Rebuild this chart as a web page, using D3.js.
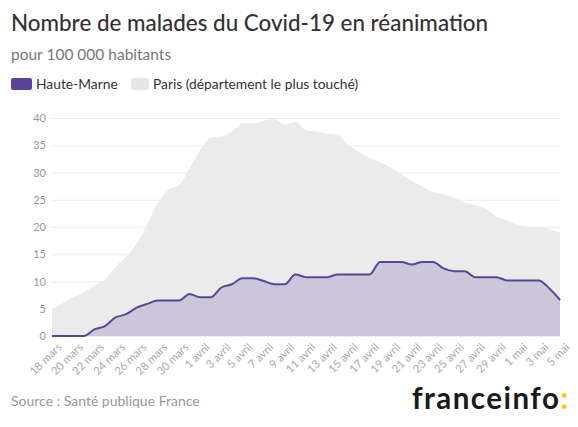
<!DOCTYPE html>
<html><head><meta charset="utf-8">
<script src="https://cdn.jsdelivr.net/npm/d3@7"></script>
<style>
body{margin:0;background:#fff;}
svg{display:block;font-family:Lato, "Open Sans", sans-serif;}
</style></head>
<body><svg id="c" width="578" height="427"></svg>
<script>
const dates = d3.range(0,49).map(i => new Date(2020,2,18+i));
const paris = [4.95,6.0,7.1,8.0,9.2,10.3,12.7,14.6,16.9,20.4,24.5,26.8,27.7,30.8,34.1,36.4,36.6,37.5,39.0,39.0,39.5,39.8,38.8,39.3,37.8,37.5,37.1,36.9,35.0,33.8,32.6,31.9,30.9,29.7,28.5,27.4,26.4,26.0,25.3,24.5,24.0,23.4,21.9,21.3,20.4,20.1,20.1,19.6,19.0];
const hauteMarne = [0,0,0,0,1.2,1.8,3.4,4.0,5.2,5.9,6.5,6.5,6.5,7.7,7.1,7.1,8.9,9.5,10.6,10.6,10.1,9.5,9.5,11.3,10.8,10.8,10.8,11.3,11.3,11.3,11.3,13.6,13.6,13.6,13.1,13.6,13.6,12.4,11.9,11.9,10.8,10.8,10.8,10.2,10.2,10.2,10.2,8.7,6.6];
const yTicks = [0,5,10,15,20,25,30,35,40];
const moisFr = ["janv","févr","mars","avril","mai"];
const title = "Nombre de malades du Covid-19 en réanimation";
const subtitle = "pour 100 000 habitants";
const legendLabels = ["Haute-Marne","Paris (département le plus touché)"];
const source = "Source : Santé publique France";

const svg = d3.select("#c");
const x = d3.scaleTime().domain([dates[0], dates[48]]).range([52, 560]);
const y = d3.scaleLinear().domain([0,40]).range([336, 118]);

svg.append("text").attr("x",11).attr("y",31).attr("font-size",22.4).attr("font-weight",500).attr("fill","#333").text(title);
svg.append("text").attr("x",11).attr("y",60).attr("font-size",15.5).attr("fill","#777").text(subtitle);
// legend
const lg = svg.append("g");
lg.append("rect").attr("x",11).attr("y",78).attr("width",21).attr("height",12).attr("rx",2).attr("fill","#5d4299");
lg.append("text").attr("x",36).attr("y",89).attr("font-size",13.8).attr("fill","#333").text(legendLabels[0]);
lg.append("rect").attr("x",131).attr("y",78).attr("width",18).attr("height",12).attr("rx",2).attr("fill","#e6e6e6");
lg.append("text").attr("x",153).attr("y",89).attr("font-size",13.8).attr("fill","#333").text(legendLabels[1]);

// grid
const ya = svg.append("g").attr("transform","translate(52,0)")
  .call(d3.axisLeft(y).tickValues(yTicks).tickSize(-508).tickPadding(6));
ya.select(".domain").remove();
ya.selectAll("line").attr("stroke","#ececec");
ya.selectAll("text").attr("fill","#999").attr("font-size",11).attr("font-family","Lato, sans-serif");

const curve = d3.curveMonotoneX;
const areaP = d3.area().x((d,i)=>x(dates[i])).y0(y(0)).y1(d=>y(d)).curve(curve);
svg.append("path").datum(paris).attr("d",areaP).attr("fill","#ebebeb");
svg.append("path").datum(hauteMarne).attr("d",areaP).attr("fill","#cbc6d9");
svg.append("path").datum(hauteMarne).attr("d",d3.line().x((d,i)=>x(dates[i])).y(d=>y(d)).curve(curve))
  .attr("fill","none").attr("stroke","#5a4794").attr("stroke-width",2);

// x axis
const xTickDates = dates.filter((d,i)=>i%2===0);
const xa = svg.append("g").attr("transform","translate(0,336)")
  .call(d3.axisBottom(x).tickValues(xTickDates).tickSize(0).tickFormat(d=>d.getDate()+" "+moisFr[d.getMonth()]));
xa.select(".domain").remove();
xa.selectAll("text").attr("fill","#aaa").attr("font-size",11.2).attr("font-family","Lato, sans-serif")
  .attr("text-anchor","end").attr("transform","translate(5,7) rotate(-45)").attr("dy","0.35em");

svg.append("text").attr("x",11).attr("y",406).attr("font-size",14).attr("fill","#999").text(source);
const logo = svg.append("text").attr("x",412).attr("y",409).attr("font-size",29.5).attr("font-weight",700).attr("fill","#1a1a1a")
  .attr("textLength",156).attr("lengthAdjust","spacing");
logo.append("tspan").text("franceinfo");
logo.append("tspan").attr("fill","#ffc400").text(":");
</script></body></html>
